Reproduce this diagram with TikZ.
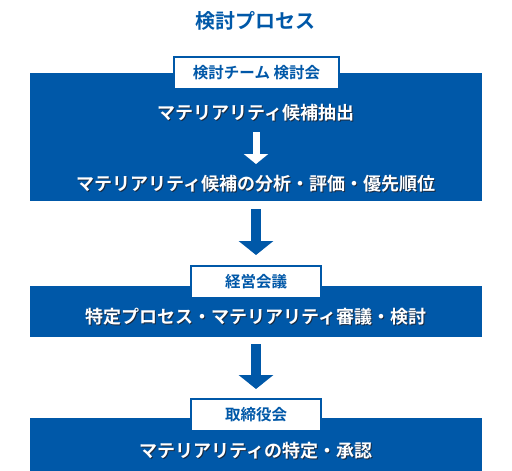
\documentclass[tikz,border=0pt]{standalone}
\usepackage{fontspec}
\setmainfont{Noto Sans CJK JP}[BoldFont={Noto Sans CJK JP Bold}]
\usetikzlibrary{arrows.meta}
\definecolor{mblue}{HTML}{0058A8}
\definecolor{mshadow}{HTML}{1A2A40}
\newcommand\shadowtxt[1]{\rlap{\hspace{1pt}\raisebox{-1pt}{\color{mshadow}#1}}#1}
\tikzset{
  bluebox/.style={fill=mblue, draw=none, inner sep=0pt, minimum width=452pt},
  labelbox/.style={fill=white, draw=mblue, line width=2pt, inner sep=0pt, minimum height=32pt, text=mblue, font=\bfseries\fontsize{15.5}{18}\selectfont},
  boxtext/.style={text=white, inner sep=0pt, font=\bfseries\fontsize{18}{21}\selectfont},
  bigarrow/.style={draw=mblue, line width=10pt, -{Triangle[width=34pt,length=14pt]}},
  whitearrow/.style={draw=white, line width=7pt, -{Triangle[width=24pt,length=10pt]}},
}
\begin{document}
\begin{tikzpicture}[x=1pt,y=-1pt]
\useasboundingbox (0,0) rectangle (512,471);
\node[text=mblue, font=\bfseries\fontsize{20}{24}\selectfont, inner sep=0pt] (title) at (255,21) {検討プロセス};

% box 1
\node[bluebox, minimum height=128pt] (b1) at (256,137) {};
\node[labelbox, minimum width=165pt] (l1) at (256.5,72.5) {検討チーム 検討会};
\node[boxtext] (t1) at (256,113) {\shadowtxt{マテリアリティ候補抽出}};
\node[boxtext] (t2) at (256,184) {\shadowtxt{マテリアリティ候補の分析・評価・優先順位}};
\coordinate (w1) at (256,132);
\coordinate (w2) at (256,164);
\draw[whitearrow] (w1) -- (w2);

% box 2
\node[bluebox, minimum height=51pt] (b2) at (256,311.5) {};
\node[labelbox, minimum width=130pt] (l2) at (256,282) {経営会議};
\node[boxtext] (t3) at (256,317) {\shadowtxt{特定プロセス・マテリアリティ審議・検討}};

% box 3
\node[bluebox, minimum height=53pt] (b3) at (256,444.5) {};
\node[labelbox, minimum width=130pt] (l3) at (256,415) {取締役会};
\node[boxtext] (t4) at (256,451) {\shadowtxt{マテリアリティの特定・承認}};

% arrows
\draw[bigarrow] ([yshift=-8pt]b1.south) -- ([yshift=10pt]l2.north);
\draw[bigarrow] ([yshift=-7pt]b2.south) -- ([yshift=9pt]l3.north);
\end{tikzpicture}
\end{document}
